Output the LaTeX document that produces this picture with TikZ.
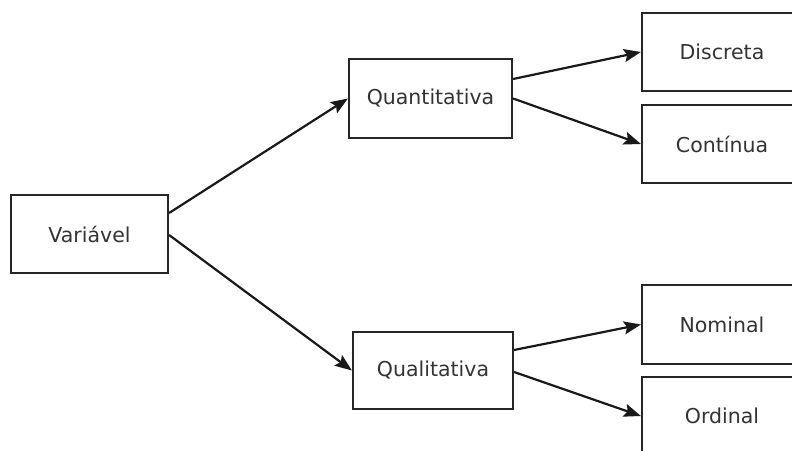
\documentclass[tikz,border=0pt]{standalone}
\usepackage{fontspec}
\setmainfont{DejaVu Sans}
\usetikzlibrary{arrows.meta}
\tikzset{
  box/.style={draw=black!85, line width=2.2pt, fill=white, rectangle, inner sep=0pt,
    font=\fontsize{20.5}{24}\selectfont, text=black!80},
  conn/.style={draw=black!90, line width=2.2pt, -{Stealth[length=17pt,width=13pt,inset=3pt]}}
}
\begin{document}
\begin{tikzpicture}[x=1pt,y=-1pt]
\useasboundingbox (0,0) rectangle (792,450);
\clip (0,0) rectangle (792,450);
\node[box, minimum width=157pt, minimum height=78pt] (var) at (89.5,234) {Variável};
\node[box, minimum width=163pt, minimum height=79pt] (quant) at (430.5,98.5) {Quantitativa};
\node[box, minimum width=160pt, minimum height=77pt] (qual) at (433,370.5) {Qualitativa};
\node[box, minimum width=160pt, minimum height=78pt] (disc) at (722,52) {Discreta};
\node[box, minimum width=160pt, minimum height=78pt] (cont) at (722,144) {Contínua};
\node[box, minimum width=160pt, minimum height=79pt] (nom) at (722,324.5) {Nominal};
\node[box, minimum width=160pt, minimum height=78pt] (ord) at (722,416) {Ordinal};
\draw[conn] ([yshift=21pt]var.east) -- (quant.west);
\draw[conn] ([yshift=-1pt]var.east) -- (qual.west);
\draw[conn] ([yshift=19.5pt]quant.east) -- (disc.west);
\draw[conn] (quant.east) -- (cont.west);
\draw[conn] ([yshift=20.5pt]qual.east) -- (nom.west);
\draw[conn] ([yshift=-1.5pt]qual.east) -- (ord.west);
\end{tikzpicture}
\end{document}
